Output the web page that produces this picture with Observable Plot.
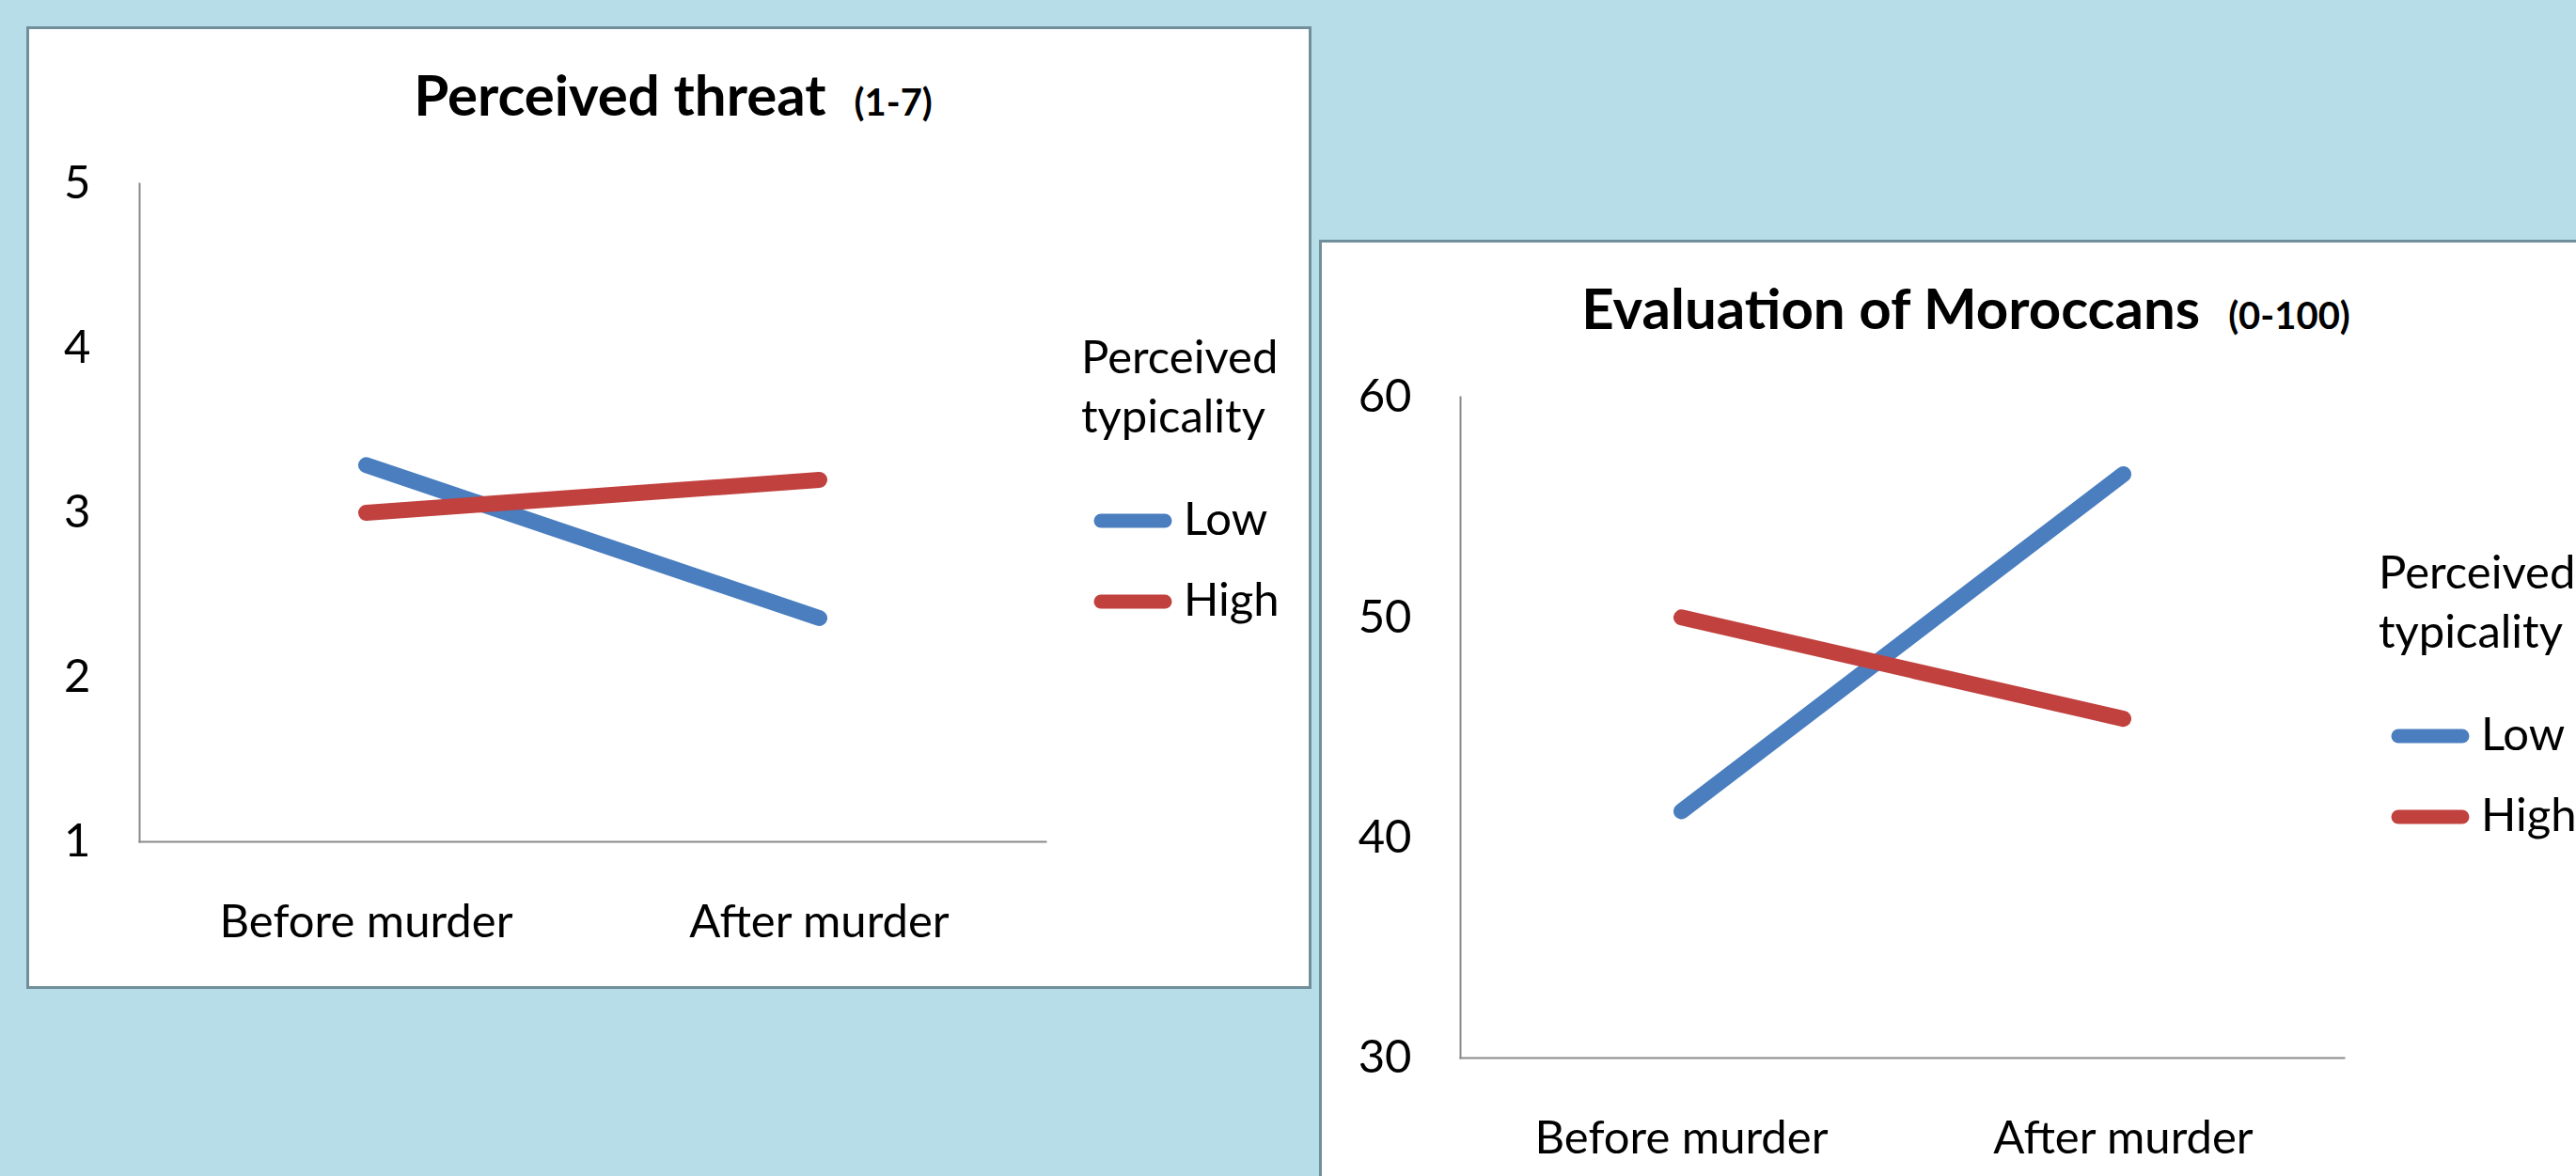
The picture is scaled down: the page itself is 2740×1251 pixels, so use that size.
<!DOCTYPE html>
<html>
<head>
<meta charset="utf-8">
<script src="https://cdn.jsdelivr.net/npm/d3@7"></script>
<script src="https://cdn.jsdelivr.net/npm/@observablehq/plot@0.6"></script>
<style>
html, body { margin: 0; padding: 0; }
body { width: 2740px; height: 1251px; background: #b7dde8; position: relative; overflow: hidden; font-family: Lato, sans-serif; }
.panel { position: absolute; width: 1367px; height: 1024px; box-sizing: border-box; background: #fff; border: 3px solid #718f9b; }
.panel svg { position: absolute; left: 0; top: 0; overflow: visible; }
</style>
</head>
<body>
<script>
const periods = ["Before murder", "After murder"];
const groups = ["Low", "High"];
const groupColors = ["#4a7ebf", "#c0413e"];
const legendTitle = ["Perceived", "typicality"];

const threatTitle = "Perceived threat";
const threatSub = "(1-7)";
const threatLow = [3.29, 2.36];
const threatHigh = [3.0, 3.2];
const threatTicks = [1, 2, 3, 4, 5];

const evalTitle = "Evaluation of Moroccans";
const evalSub = "(0-100)";
const evalLow = [41.2, 56.5];
const evalHigh = [50.0, 45.4];
const evalTicks = [30, 40, 50, 60];

function rows(low, high) {
  return [
    ...periods.map((p, i) => ({period: p, group: groups[0], value: low[i]})),
    ...periods.map((p, i) => ({period: p, group: groups[1], value: high[i]}))
  ];
}

const FS = 49;

function panel({left, top, title, sub, data, ticks, margins, lx, ly}) {
  const div = document.createElement("div");
  div.className = "panel";
  div.style.left = left + "px";
  div.style.top = top + "px";
  document.body.appendChild(div);

  const chart = Plot.plot({
    width: 1361,
    height: 1018,
    ...margins,
    style: {fontFamily: "Lato, sans-serif", fontSize: FS + "px", color: "#000", background: "transparent", overflow: "visible"},
    x: {type: "point", domain: periods, padding: 0.5, label: null},
    y: {domain: [ticks[0], ticks[ticks.length - 1]], label: null},
    color: {domain: groups, range: groupColors},
    marks: [
      Plot.frame({anchor: "left", stroke: "#8a8a8a", strokeWidth: 2}),
      Plot.frame({anchor: "bottom", stroke: "#8a8a8a", strokeWidth: 2}),
      Plot.axisY({ticks, tickSize: 0, tickPadding: 52, tickFormat: d => String(d), fontSize: FS, label: null}),
      Plot.axisX({tickSize: 0, tickPadding: 67, fontSize: FS, label: null}),
      Plot.line(data, {x: "period", y: "value", stroke: "group", z: "group", strokeWidth: 17, strokeLinecap: "round", strokeLinejoin: "round"})
    ]
  });
  div.appendChild(chart);

  const svg = d3.select(chart);
  const t = svg.append("text")
    .attr("x", 685).attr("y", 92)
    .attr("text-anchor", "middle")
    .attr("font-weight", "bold")
    .attr("fill", "#000");
  t.append("tspan").attr("font-size", 60).text(title);
  t.append("tspan").attr("dx", 30).attr("font-size", 40).text(sub);

  const lg = svg.append("g")
    .attr("transform", `translate(${lx},${ly})`)
    .attr("font-size", FS).attr("fill", "#000").attr("text-anchor", "start");
  legendTitle.forEach((s, i) => {
    lg.append("text").attr("x", 1119).attr("y", 366 + i * 63).text(s);
  });
  groups.forEach((g, i) => {
    const y = 523 + i * 86;
    lg.append("line")
      .attr("x1", 1140).attr("x2", 1208)
      .attr("y1", y).attr("y2", y)
      .attr("stroke", groupColors[i])
      .attr("stroke-width", 15)
      .attr("stroke-linecap", "round");
    lg.append("text").attr("x", 1228).attr("y", y + 15).text(g);
  });
}

panel({
  left: 28, top: 28,
  title: threatTitle, sub: threatSub,
  data: rows(threatLow, threatHigh),
  ticks: threatTicks,
  margins: {marginLeft: 117, marginTop: 164, marginRight: 280, marginBottom: 154},
  lx: 0, ly: 0
});

panel({
  left: 1403, top: 255,
  title: evalTitle, sub: evalSub,
  data: rows(evalLow, evalHigh),
  ticks: evalTicks,
  margins: {marginLeft: 147, marginTop: 164, marginRight: 274, marginBottom: 151},
  lx: 5, ly: 2
});
</script>
</body>
</html>
